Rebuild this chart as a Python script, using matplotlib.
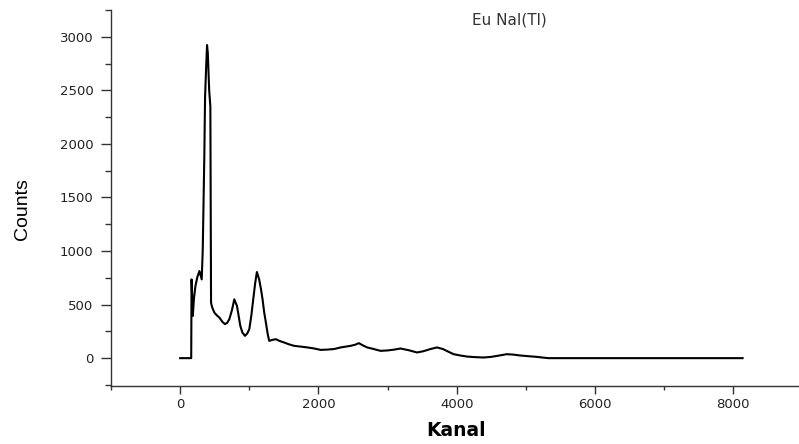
import matplotlib.pyplot as plt
from matplotlib.ticker import MultipleLocator

# ---------------------
# SPECTRUM
# ---------------------
kanal = [0, 150, 160, 165, 183, 200, 221, 250, 279, 312, 327, 350, 360, 375, 389,
         400, 420, 437, 447, 460, 495, 530, 567, 610, 649, 680, 711, 750, 783, 822,
         850, 870, 900, 937, 970, 1000, 1030, 1057, 1085, 1110, 1143, 1170, 1192,
         1215, 1240, 1265, 1288, 1330, 1384, 1440, 1504, 1570, 1648, 1740, 1841,
         1940, 2032, 2130, 2225, 2321, 2400, 2465, 2530, 2585, 2640, 2705, 2800,
         2897, 3000, 3100, 3186, 3300, 3426, 3520, 3620, 3715, 3800, 3880, 3955,
         4050, 4147, 4250, 4387, 4500, 4620, 4723, 4820, 4915, 5040, 5157, 5250,
         5325, 6000, 7000, 8134]
counts = [0, 0, 0, 735, 394, 560, 673, 760, 813, 735, 1015, 1900, 2427, 2700, 2923,
          2850, 2500, 2349, 518, 480, 425, 400, 379, 340, 317, 330, 363, 450, 549, 487,
          380, 301, 240, 208, 230, 270, 400, 549, 700, 804, 735, 640, 549,
          430, 332, 230, 161, 170, 177, 160, 146, 130, 115, 108, 100,
          90, 77, 80, 85, 100, 108, 115, 125, 140, 120, 100, 85,
          68, 72, 80, 90, 75, 53, 65, 85, 100, 85, 60, 37,
          25, 15, 10, 6, 12, 25, 37, 33, 25, 18, 12, 5,
          0, 0, 0, 0]

x_major = [0, 2000, 4000, 6000, 8000]
y_major = [0, 500, 1000, 1500, 2000, 2500, 3000]

# ---------------------
# PLOT
# ---------------------
fig = plt.figure(figsize=(7.99, 4.44), dpi=100)
ax = fig.add_axes([111 / 799, 58 / 444, 688 / 799, 376 / 444])

ax.plot(kanal, counts, color="black", lw=1.5)

ax.set_xlim(-1000, 8950)
ax.set_ylim(-260, 3250)

ax.spines["top"].set_visible(False)
ax.spines["right"].set_visible(False)
for side in ["left", "bottom"]:
    ax.spines[side].set_color("#333333")
    ax.spines[side].set_linewidth(1.0)

ax.set_xticks(x_major)
ax.set_yticks(y_major)
ax.xaxis.set_minor_locator(MultipleLocator(1000))
ax.yaxis.set_minor_locator(MultipleLocator(250))
ax.tick_params(which="both", direction="out", width=1, color="#333333",
               labelsize=9.5, labelcolor="#222222")
ax.tick_params(axis="x", which="major", length=5.8, pad=3)
ax.tick_params(axis="x", which="minor", length=3)
ax.tick_params(axis="y", which="major", length=7.2, pad=5.5)
ax.tick_params(axis="y", which="minor", length=4.3)

ax.set_xlabel("Kanal", fontsize=13.5, fontweight="bold", va="center")
ax.xaxis.set_label_coords((456 - 111) / 688, (14 - 58) / 376)
ax.set_ylabel("Counts", fontsize=14, family=["Liberation Sans Narrow", "Liberation Sans"],
              va="center")
ax.yaxis.set_label_coords((23 - 111) / 688, (444 - 209 - 58) / 376)

fig.text(509 / 799, 1 - 20 / 444, "Eu NaI(Tl)", fontsize=11, color="#333333",
         ha="center", va="center")

plt.savefig("out.png", dpi=100)
